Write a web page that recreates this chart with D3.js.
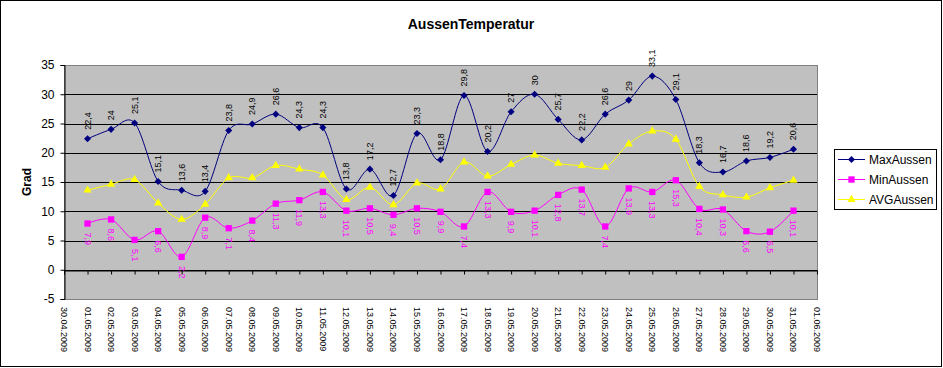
<!DOCTYPE html>
<html>
<head>
<meta charset="utf-8">
<script src="https://cdn.jsdelivr.net/npm/d3@7"></script>
<style>
body { margin: 0; background: #fff; }
text { font-family: Arial, "Liberation Sans", sans-serif; }
</style>
</head>
<body>
<svg id="chart" width="943" height="368"></svg>
<script>
// daily values 01.05.2009 - 31.05.2009
var days = ["01.05.2009","02.05.2009","03.05.2009","04.05.2009","05.05.2009","06.05.2009","07.05.2009","08.05.2009","09.05.2009","10.05.2009",
  "11.05.2009","12.05.2009","13.05.2009","14.05.2009","15.05.2009","16.05.2009","17.05.2009","18.05.2009","19.05.2009","20.05.2009",
  "21.05.2009","22.05.2009","23.05.2009","24.05.2009","25.05.2009","26.05.2009","27.05.2009","28.05.2009","29.05.2009","30.05.2009","31.05.2009"];
var maxAussen = [22.4,24,25.1,15.1,13.6,13.4,23.8,24.9,26.6,24.3,24.3,13.8,17.2,12.7,23.3,18.8,29.8,20.2,27,30,25.7,22.2,26.6,29,33.1,29.1,18.3,16.7,18.6,19.2,20.6];
var minAussen = [7.9,8.6,5.1,6.6,2.2,8.9,7.1,8.4,11.3,11.9,13.3,10.1,10.5,9.4,10.5,9.9,7.4,13.3,9.9,10.1,12.8,13.7,7.4,13.9,13.3,15.3,10.4,10.3,6.6,6.5,10.1];
var avgAussen = [13.6,14.6,15.4,11.4,8.6,11.2,15.7,15.7,17.8,17.2,16.2,12.0,14.1,11.1,14.8,13.8,18.4,16.0,18.0,19.6,18.2,17.8,17.5,21.5,23.7,22.3,14.2,12.8,12.4,14.0,15.3];
var yTicks = [-5,0,5,10,15,20,25,30,35];
var seriesNames = ["MaxAussen","MinAussen","AVGAussen"];
var seriesColors = ["#000080","#ff00ff","#ffff00"];

var svg = d3.select("#chart");
var parse = d3.timeParse("%d.%m.%Y");
var fmtDate = d3.timeFormat("%d.%m.%Y");

// plot area edges
var pLeft = 64, pRight = 817, pTop = 65, pBottom = 299;

var x = d3.scaleTime()
  .domain([parse("30.04.2009"), parse("01.06.2009")])
  .range([pLeft, pRight]);
var y = d3.scaleLinear().domain([-5, 35]).range([pBottom, pTop]);

// outer border
svg.append("rect").attr("x", 0.5).attr("y", 0.5).attr("width", 941).attr("height", 366)
  .attr("fill", "#fff").attr("stroke", "#000");

// plot area
svg.append("rect").attr("x", pLeft + 0.5).attr("y", pTop + 0.5).attr("width", pRight - pLeft).attr("height", pBottom - pTop)
  .attr("fill", "#c0c0c0").attr("stroke", "#808080");

// gridlines
svg.append("g").selectAll("line")
  .data(yTicks.filter(function(d){ return d > -5 && d < 35; }))
  .enter().append("line")
  .attr("x1", pLeft).attr("x2", pRight)
  .attr("y1", function(d){ return Math.round(y(d)) + 0.5; })
  .attr("y2", function(d){ return Math.round(y(d)) + 0.5; })
  .attr("stroke", "#000");

// y axis
var yAxis = svg.append("g").attr("transform", "translate(" + (pLeft + 0.5) + ",0)")
  .call(d3.axisLeft(y).tickValues(yTicks).tickSize(4).tickPadding(6).tickFormat(function(d){ return d; }));
yAxis.select(".domain").attr("stroke", "#000");
yAxis.selectAll("text").attr("font-size", 12).attr("fill", "#000")
  .style("font-family", "Arial, 'Liberation Sans', sans-serif");

// x axis on zero line
var allDays = d3.timeDay.range(parse("30.04.2009"), d3.timeDay.offset(parse("01.06.2009"), 1));
var xAxis = svg.append("g").attr("transform", "translate(0," + (Math.round(y(0)) + 0.5) + ")")
  .call(d3.axisBottom(x).tickValues(allDays).tickSize(4).tickSizeOuter(0).tickFormat(""));
xAxis.select(".domain").attr("stroke", "#000");

// date labels under the plot
svg.append("g").selectAll("text")
  .data(allDays)
  .enter().append("text")
  .attr("transform", function(d){ return "translate(" + x(d) + "," + (pBottom + 8) + ") rotate(90)"; })
  .attr("dominant-baseline", "central")
  .attr("font-size", 9)
  .text(function(d){ return fmtDate(d); });

// title
svg.append("text").attr("x", 471).attr("y", 29).attr("text-anchor", "middle")
  .attr("font-size", 14).attr("font-weight", "bold").text("AussenTemperatur");

// axis title
svg.append("text").attr("transform", "translate(27," + ((pTop + pBottom) / 2) + ") rotate(-90)")
  .attr("text-anchor", "middle").attr("dominant-baseline", "central")
  .attr("font-size", 12).attr("font-weight", "bold").text("Grad");

var seriesData = [maxAussen, minAussen, avgAussen];
var line = d3.line()
  .x(function(d, i){ return x(parse(days[i])); })
  .y(function(d){ return y(d); })
  .curve(d3.curveCardinal);

var symbols = [
  d3.symbol(d3.symbolSquare, 25),
  d3.symbol(d3.symbolSquare, 40),
  d3.symbol(d3.symbolTriangle, 30)
];
var rotations = [45, 0, 0];

// draw avg first, then min, then max
[2, 1, 0].forEach(function(s){
  var g = svg.append("g");
  g.append("path").datum(seriesData[s]).attr("d", line)
    .attr("fill", "none").attr("stroke", seriesColors[s]).attr("stroke-width", 1);
  g.selectAll("path.m").data(seriesData[s]).enter().append("path").attr("class", "m")
    .attr("d", symbols[s])
    .attr("transform", function(d, i){
      return "translate(" + x(parse(days[i])) + "," + y(d) + ") rotate(" + rotations[s] + ")";
    })
    .attr("fill", seriesColors[s]);
});

// value labels
svg.append("g").selectAll("text").data(maxAussen).enter().append("text")
  .attr("transform", function(d, i){ return "translate(" + x(parse(days[i])) + "," + (y(d) - 9) + ") rotate(-90)"; })
  .attr("dominant-baseline", "central").attr("font-size", 9).attr("fill", "#000")
  .text(function(d){ return String(d).replace(".", ","); });

svg.append("g").selectAll("text").data(minAussen).enter().append("text")
  .attr("transform", function(d, i){ return "translate(" + x(parse(days[i])) + "," + (y(d) + 9) + ") rotate(90)"; })
  .attr("dominant-baseline", "central").attr("font-size", 9).attr("fill", "#ff00ff")
  .text(function(d){ return String(d).replace(".", ","); });

// legend
var legend = svg.append("g");
legend.append("rect").attr("x", 834.5).attr("y", 149.5).attr("width", 102).attr("height", 60)
  .attr("fill", "#fff").attr("stroke", "#000");
seriesNames.forEach(function(name, s){
  var ly = 159.5 + s * 20;
  legend.append("line").attr("x1", 838).attr("x2", 865).attr("y1", ly).attr("y2", ly)
    .attr("stroke", seriesColors[s]);
  legend.append("path").attr("d", symbols[s])
    .attr("transform", "translate(851.5," + ly + ") rotate(" + rotations[s] + ")")
    .attr("fill", seriesColors[s]);
  legend.append("text").attr("x", 869).attr("y", ly).attr("dominant-baseline", "central")
    .attr("font-size", 12).text(name);
});
</script>
</body>
</html>
